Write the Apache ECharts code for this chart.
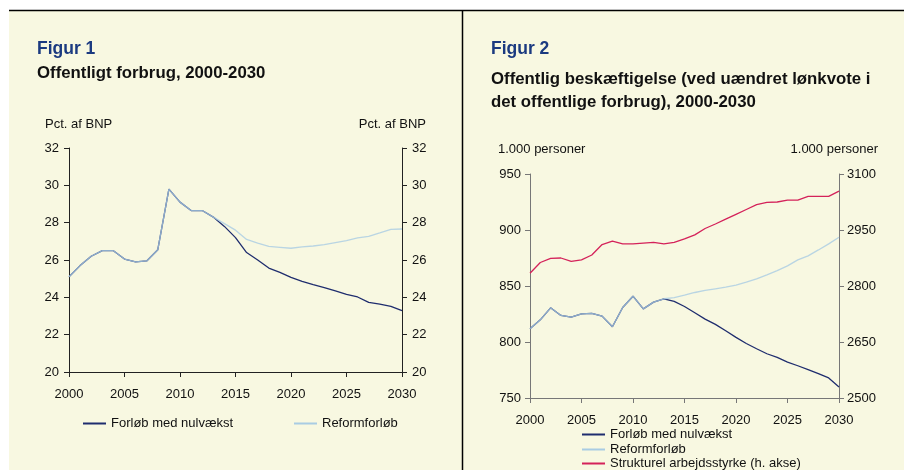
<!DOCTYPE html>
<html><head><meta charset="utf-8">
<script src="https://cdn.jsdelivr.net/npm/echarts@6/dist/echarts.min.js"></script>
<style>html,body{margin:0;padding:0;background:#fff}#c{width:904px;height:470px}</style>
</head><body><div id="c"></div>
<script>
const years = [];
for (let y = 2000; y <= 2030; y++) years.push(String(y));

// Figur 1: Offentligt forbrug, pct. af BNP
const forbrugNulvaekst = [25.1,25.7,26.2,26.5,26.5,26.05,25.9,25.95,26.55,29.8,29.1,28.65,28.65,28.3,27.8,27.2,26.4,26.0,25.57,25.34,25.07,24.86,24.68,24.52,24.34,24.16,24.02,23.73,23.64,23.52,23.29];
const forbrugReform = [25.1,25.7,26.2,26.5,26.5,26.05,25.9,25.95,26.55,29.8,29.1,28.65,28.65,28.3,27.95,27.6,27.1,26.9,26.73,26.68,26.63,26.7,26.75,26.82,26.93,27.04,27.18,27.27,27.45,27.64,27.66];

// Figur 2: Offentlig beskæftigelse, 1.000 personer
const beskNulvaekst = [811.8,819.8,830.5,823.7,822.2,825.2,825.5,823.1,813.6,830.8,840.9,829.6,835.6,838.6,836.2,831.7,826.1,820.4,815.7,810.0,804.1,798.7,794.0,789.5,786.3,782.1,778.8,775.3,771.7,767.9,759.8];
const beskReform = [811.8,819.8,830.5,823.7,822.2,825.2,825.5,823.1,813.6,830.8,840.9,829.6,835.6,838.6,839.7,841.8,844.2,846.0,847.5,849.0,850.7,853.4,856.4,860.0,863.8,868.0,873.3,876.9,882.2,887.6,893.5];
const arbejdsstyrke = [2834,2863,2874,2875,2866,2870,2883,2911,2920,2913,2913,2915,2917,2913,2917,2926,2937,2954,2966,2979,2992,3005,3018,3024,3025,3030,3030,3040,3040,3040,3054];

const NAVY = '#1f2d6e', LIGHT = '#a9cce3', RED = '#d4225a';
const FONT = 'Liberation Sans';
const chart = echarts.init(document.getElementById('c'), null, {renderer: 'canvas'});

function xAxis(gi, color) {
  return {
    gridIndex: gi, type: 'category', data: years, boundaryGap: false,
    axisLine: {lineStyle: {color: color, width: 1}},
    axisTick: {interval: 4, length: 5, lineStyle: {color: color}},
    axisLabel: {interval: 4, margin: 16, color: '#111', fontSize: 13, fontFamily: FONT},
    splitLine: {show: false}
  };
}
function yAxis(gi, pos, min, max, interval, color, margin) {
  return {
    gridIndex: gi, type: 'value', position: pos, min: min, max: max, interval: interval,
    axisLine: {show: true, lineStyle: {color: color, width: 1}},
    axisTick: {show: true, length: 5, lineStyle: {color: color}},
    axisLabel: {margin: margin, color: '#111', fontSize: 13, fontFamily: FONT, formatter: v => String(v)},
    splitLine: {show: false}
  };
}
function line(name, data, color, xi, yi, z, opacity) {
  return {name: name, type: 'line', data: data, xAxisIndex: xi, yAxisIndex: yi,
    symbol: 'none', lineStyle: {color: color, width: 1.3, opacity: opacity == null ? 1 : opacity},
    itemStyle: {color: color}, animation: false, z: z};
}
const txt = (text, left, top, opts) => ({text: text, left: left, top: top, padding: 0,
  textStyle: Object.assign({fontFamily: FONT, fontSize: 13, fontWeight: 'normal', color: '#111'}, opts || {})});
const txtR = (text, right, top, opts) => ({text: text, right: right, top: top, padding: 0,
  textStyle: Object.assign({fontFamily: FONT, fontSize: 13, fontWeight: 'normal', color: '#111'}, opts || {})});
const lg = (names, left, top) => ({data: names, left: left, top: top, padding: 0, orient: 'vertical',
  itemWidth: 23, itemHeight: 2, itemGap: 0, icon: 'rect',
  textStyle: {fontFamily: FONT, fontSize: 13, color: '#111'}});

chart.setOption({
  animation: false,
  backgroundColor: '#ffffff',
  graphic: [
    {type: 'rect', shape: {x: 9, y: 10, width: 895, height: 460}, style: {fill: '#f8f8e1'}, z: -10},
    {type: 'line', shape: {x1: 9, y1: 10.5, x2: 904, y2: 10.5}, style: {stroke: '#000', lineWidth: 1.5}, z: -5},
    {type: 'line', shape: {x1: 462.5, y1: 10, x2: 462.5, y2: 470}, style: {stroke: '#000', lineWidth: 1.5}, z: -5}
  ],
  title: [
    txt('Figur 1', 37, 40, {fontSize: 17.5, fontWeight: 'bold', color: '#1b3a80'}),
    txt('Offentligt forbrug, 2000-2030', 37, 65, {fontSize: 16.8, fontWeight: 'bold'}),
    txt('Pct. af BNP', 45, 118),
    txtR('Pct. af BNP', 478, 118),
    txt('Figur 2', 491, 40, {fontSize: 17.5, fontWeight: 'bold', color: '#1b3a80'}),
    txt('Offentlig beskæftigelse (ved uændret lønkvote i\ndet offentlige forbrug), 2000-2030', 491, 68, {fontSize: 16.8, fontWeight: 'bold', lineHeight: 23}),
    txt('1.000 personer', 498, 143),
    txtR('1.000 personer', 26, 143)
  ],
  grid: [
    {left: 69, top: 148, width: 333, height: 224},
    {left: 530, top: 174, width: 309, height: 224}
  ],
  xAxis: [xAxis(0, '#222'), xAxis(1, '#777')],
  yAxis: [
    yAxis(0, 'left', 20, 32, 2, '#222', 10),
    yAxis(0, 'right', 20, 32, 2, '#222', 10),
    yAxis(1, 'left', 750, 950, 50, '#777', 9),
    yAxis(1, 'right', 2500, 3100, 150, '#777', 8)
  ],
  legend: [
    lg(['Forløb med nulvækst'], 83, 417),
    lg(['Reformforløb'], 294, 417),
    lg(['Forløb med nulvækst'], 582, 428),
    lg(['Reformforløb'], 582, 443),
    lg(['Strukturel arbejdsstyrke (h. akse)'], 582, 457)
  ],
  series: [
    line('Forløb med nulvækst', forbrugNulvaekst, NAVY, 0, 0, 3),
    line('Reformforløb', forbrugReform, LIGHT, 0, 0, 4, 0.8),
    line('Strukturel arbejdsstyrke (h. akse)', arbejdsstyrke, RED, 1, 3, 3),
    line('Forløb med nulvækst', beskNulvaekst, NAVY, 1, 2, 3),
    line('Reformforløb', beskReform, LIGHT, 1, 2, 4, 0.8)
  ]
});
</script></body></html>
